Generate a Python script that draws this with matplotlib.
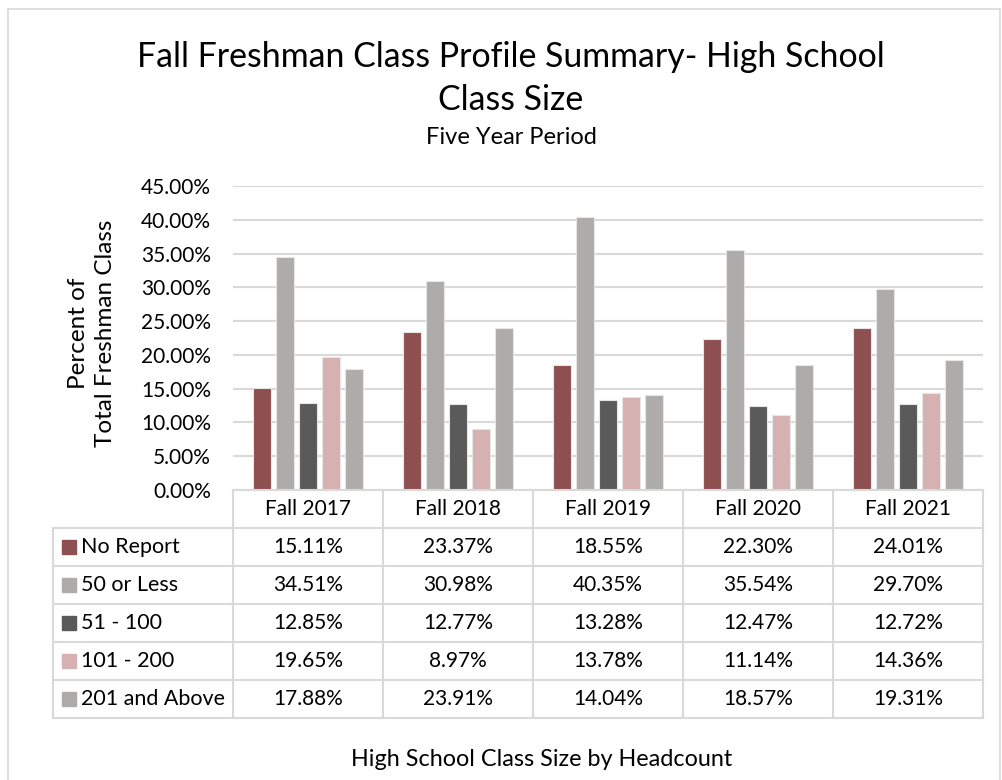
import matplotlib
matplotlib.use("Agg")
import matplotlib.pyplot as plt
from matplotlib.patches import Rectangle
from matplotlib.lines import Line2D

plt.rcParams['font.family'] = ['Lato', 'DejaVu Sans']

categories = ["Fall 2017", "Fall 2018", "Fall 2019", "Fall 2020", "Fall 2021"]
series_names = ["No Report", "50 or Less", "51 - 100", "101 - 200", "201 and Above"]
no_report = [15.11, 23.37, 18.55, 22.30, 24.01]
fifty_or_less = [34.51, 30.98, 40.35, 35.54, 29.70]
fiftyone_100 = [12.85, 12.77, 13.28, 12.47, 12.72]
onehundred_200 = [19.65, 8.97, 13.78, 11.14, 14.36]
two01_above = [17.88, 23.91, 14.04, 18.57, 19.31]
series_values = [no_report, fifty_or_less, fiftyone_100, onehundred_200, two01_above]
colors = ["#8E4F51", "#ADACAB", "#5A5A5A", "#D5B1B1", "#ADACAB"]
yticks = [0, 5, 10, 15, 20, 25, 30, 35, 40, 45]

W, H = 1002, 780
fig = plt.figure(figsize=(W / 100, H / 100), dpi=100)

def fx(px):
    return px / W

def fy(py):
    return 1 - py / H

# outer chart border
fig.patches.append(Rectangle((fx(8), fy(795)), fx(1000) - fx(8), fy(9) - fy(795),
                             transform=fig.transFigure, fill=False,
                             edgecolor="#D9D9D9", linewidth=1.2))

grid_c = "#D9D9D9"
text_c = "#000000"
fs = 15

# main axes
x_left, x_right = 233, 983
y_top, y_zero = 186, 490
ax = fig.add_axes([fx(x_left), fy(y_zero), fx(x_right) - fx(x_left), fy(y_top) - fy(y_zero)])
ax.set_xlim(-0.5, len(categories) - 0.5)
ax.set_ylim(0, 45)
ax.set_yticks(yticks)
ax.set_yticklabels([f"{v:.2f}%" for v in yticks], fontsize=fs, color=text_c)
ax.tick_params(axis='y', length=0, pad=16)
ax.set_xticks([])
for s in ax.spines.values():
    s.set_visible(False)
ax.grid(axis='y', color=grid_c, linewidth=1.5)
ax.set_axisbelow(True)

step = 0.153
bw = 0.12
for i, (vals, c) in enumerate(zip(series_values, colors)):
    xs = [k + (i - 2) * step for k in range(len(categories))]
    ax.bar(xs, vals, width=bw, color=c, edgecolor="#E6E6E6", linewidth=0.8, zorder=3)

# table axes
t_left, t_bottom = 53, 718
left_units = (x_left - t_left) / 150.0
tax = fig.add_axes([fx(t_left), fy(t_bottom), fx(x_right) - fx(t_left), fy(y_zero) - fy(t_bottom)])
tax.set_xlim(-0.5 - left_units, len(categories) - 0.5)
nrows = len(series_names) + 1
tax.set_ylim(0, nrows)
tax.axis('off')
lw = 1.5
xl = -0.5 - left_units
xr = len(categories) - 0.5
# horizontal lines
tax.add_line(Line2D([-0.5, xr], [nrows, nrows], color=grid_c, lw=lw, clip_on=False))
for r in range(nrows):
    tax.add_line(Line2D([xl, xr], [r, r], color=grid_c, lw=lw, clip_on=False))
# vertical lines
tax.add_line(Line2D([xl, xl], [0, nrows - 1], color=grid_c, lw=lw, clip_on=False))
for k in range(len(categories) + 1):
    tax.add_line(Line2D([k - 0.5, k - 0.5], [0, nrows], color=grid_c, lw=lw, clip_on=False))
# header
for k, cat in enumerate(categories):
    tax.text(k, nrows - 0.5, cat, ha='center', va='center', fontsize=fs, color=text_c)
# rows
key_w = 14 / 150.0
for r, (name, vals, c) in enumerate(zip(series_names, series_values, colors)):
    yc = nrows - 1.5 - r
    tax.add_patch(Rectangle((xl + 9 / 150.0, yc - 0.19), key_w, 0.38, color=c, clip_on=False))
    tax.text(xl + 28 / 150.0, yc, name, ha='left', va='center', fontsize=15.5, color=text_c)
    for k, v in enumerate(vals):
        tax.text(k, yc, f"{v:.2f}%", ha='center', va='center', fontsize=fs, color=text_c)

# titles
fig.text(fx(511), fy(57), "Fall Freshman Class Profile Summary- High School", ha='center', va='center',
         fontsize=24.4, color=text_c)
fig.text(fx(511), fy(100), "Class Size", ha='center', va='center', fontsize=24.4, color=text_c)
fig.text(fx(511), fy(138), "Five Year Period", ha='center', va='center', fontsize=17, color=text_c)
fig.text(fx(92), fy(333), "Percent of\nTotal Freshman Class", ha='center', va='center', rotation=90,
         fontsize=17.5, color=text_c, linespacing=1.3)
fig.text(fx(542), fy(760), "High School Class Size by Headcount", ha='center', va='center',
         fontsize=16.8, color=text_c)

fig.savefig("out.png", dpi=100, facecolor="white")
